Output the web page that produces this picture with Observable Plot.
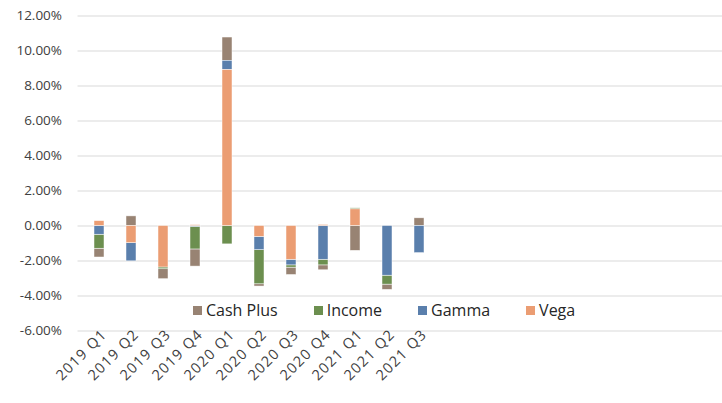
<!DOCTYPE html>
<html>
<head>
<meta charset="utf-8">
<script src="https://cdn.jsdelivr.net/npm/d3@7"></script>
<script src="https://cdn.jsdelivr.net/npm/@observablehq/plot@0.6"></script>
<style>
  html, body { margin: 0; padding: 0; background: #fff; }
  #wrap { position: relative; width: 722px; height: 403px; font-family: "Open Sans", sans-serif; }
  #legend { position: absolute; left: 193px; top: 300px; display: flex; gap: 36px; font-size: 16px; color: #262626; line-height: 20px; }
  #legend .item { display: flex; align-items: center; }
  #legend .sw { width: 9px; height: 9px; margin-right: 4px; }
  .xlab text { letter-spacing: 1.2px; }
</style>
</head>
<body>
<div id="wrap"><div id="chart"></div><div id="legend"></div></div>
<script>
const categories = ["2019 Q1","2019 Q2","2019 Q3","2019 Q4","2020 Q1","2020 Q2","2020 Q3","2020 Q4","2021 Q1","2021 Q2","2021 Q3"];
const emptySlots = ["_12","_13","_14","_15","_16","_17","_18","_19","_20"];
const seriesNames = ["Cash Plus","Income","Gamma","Vega"];
const cashPlus = [-0.50, 0.55, -0.57, -0.98, 1.33, -0.13, -0.42, -0.28, -1.42, -0.30, 0.44];
const income   = [-0.80, 0.00, -0.10, -1.29, -1.05, -1.95, -0.13, -0.32, 0.06, -0.51, 0.00];
const gamma    = [-0.50, -1.04, 0.00, -0.05, 0.53, -0.76, -0.32, -1.93, 0.00, -2.84, -1.55];
const vega     = [0.28, -0.98, -2.37, 0.05, 8.91, -0.62, -1.93, 0.06, 0.95, 0.00, 0.00];
const colors = ["#988373", "#6c8f4f", "#5a7fac", "#eb9d73"];
const stackOrder = ["Vega","Gamma","Income","Cash Plus"];
const yTicks = [-6,-4,-2,0,2,4,6,8,10,12];

const seriesValues = [cashPlus, income, gamma, vega];
const data = [];
seriesNames.forEach((s, si) => {
  categories.forEach((c, ci) => {
    data.push({category: c, series: s, value: seriesValues[si][ci]});
  });
});

const chart = Plot.plot({
  width: 722,
  height: 403,
  marginLeft: 77.5,
  marginRight: 0,
  marginTop: 15.5,
  marginBottom: 72.5,
  style: {fontFamily: "Open Sans, sans-serif", fontSize: "13px", color: "#404040", background: "white"},
  x: {
    domain: categories.concat(emptySlots),
    range: [77.5, 77.5 + 20 * 32.55],
    paddingInner: 0.68,
    paddingOuter: 0.34,
    label: null
  },
  y: {domain: [-6, 12], label: null},
  color: {domain: seriesNames, range: colors},
  marks: [
    Plot.gridY(yTicks, {stroke: "#d9d9d9", strokeOpacity: 1, strokeWidth: 1.2}),
    Plot.axisY(yTicks, {tickSize: 0, tickPadding: 16, tickFormat: d => d.toFixed(2) + "%", fontSize: 13.5, fill: "#404040", label: null}),
    Plot.axisX(categories, {tickSize: 0, tickRotate: -45, tickPadding: 1, dx: 5, fontSize: 14.5, fill: "#404040", label: null, className: "xlab"}),
    Plot.barY(data, Plot.stackY({
      x: "category",
      y: "value",
      z: "series",
      fill: "series",
      order: stackOrder,
      stroke: "white",
      strokeWidth: 0.6,
      strokeOpacity: 0.8
    }))
  ]
});
document.getElementById("chart").appendChild(chart);

const legend = document.getElementById("legend");
seriesNames.forEach((s, i) => {
  const item = document.createElement("div");
  item.className = "item";
  const sw = document.createElement("span");
  sw.className = "sw";
  sw.style.background = colors[i];
  const t = document.createElement("span");
  t.textContent = s;
  item.appendChild(sw);
  item.appendChild(t);
  legend.appendChild(item);
});
</script>
</body>
</html>
